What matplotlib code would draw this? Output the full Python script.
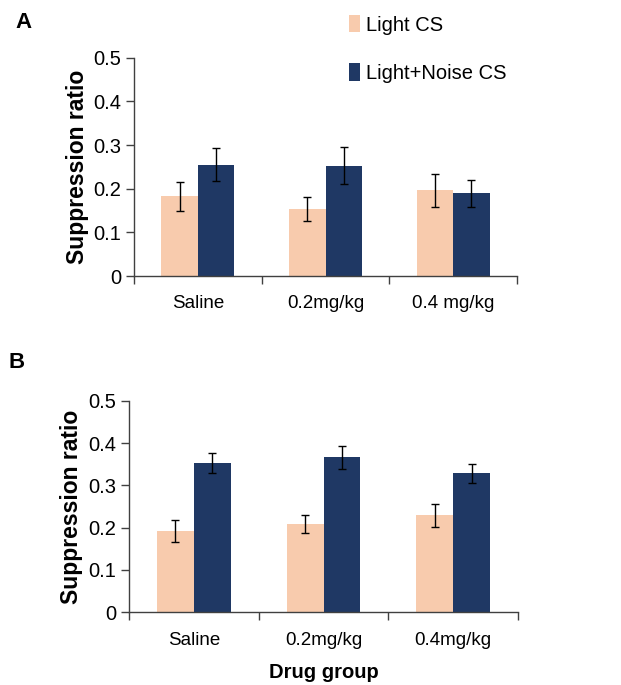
import matplotlib
matplotlib.use("Agg")
import matplotlib.pyplot as plt
from matplotlib.patches import Patch
import numpy as np

plt.rcParams['font.family'] = ['Liberation Sans', 'DejaVu Sans']

categories_a = ["Saline", "0.2mg/kg", "0.4 mg/kg"]
categories_b = ["Saline", "0.2mg/kg", "0.4mg/kg"]
series_names = ["Light CS", "Light+Noise CS"]

light_a = [0.183, 0.154, 0.196]
light_a_err = [0.033, 0.027, 0.038]
noise_a = [0.255, 0.253, 0.189]
noise_a_err = [0.038, 0.043, 0.032]

light_b = [0.192, 0.208, 0.229]
light_b_err = [0.026, 0.021, 0.027]
noise_b = [0.353, 0.366, 0.328]
noise_b_err = [0.024, 0.027, 0.023]

yticks = [0, 0.1, 0.2, 0.3, 0.4, 0.5]
ytick_labels = ["0", "0.1", "0.2", "0.3", "0.4", "0.5"]

c_light = "#F8CBAD"
c_dark = "#1F3864"
spine_c = "#404040"

fig = plt.figure(figsize=(6.21, 6.85), dpi=100)
axA = fig.add_axes([134/621, 1-276/685, 383/621, 218.3/685])
axB = fig.add_axes([129/621, 1-612.3/685, 389/621, 211.6/685])

def draw(ax, cats, light, lerr, dark, derr, lpad):
    x = np.arange(len(cats)) + 0.5
    w = 0.285
    ax.bar(x - w/2, light, w, color=c_light, edgecolor='none', zorder=2)
    ax.bar(x + w/2, dark, w, color=c_dark, edgecolor='none', zorder=2)
    ax.errorbar(x - w/2, light, yerr=lerr, fmt='none', ecolor='black',
                elinewidth=1.0, capsize=3, capthick=1.0, zorder=3)
    ax.errorbar(x + w/2, dark, yerr=derr, fmt='none', ecolor='black',
                elinewidth=1.0, capsize=3, capthick=1.0, zorder=3)
    ax.set_xlim(0, len(cats))
    ax.set_ylim(0, 0.5)
    ax.set_yticks(yticks)
    ax.set_yticklabels(ytick_labels)
    ax.set_xticks(np.arange(len(cats) + 1))
    ax.set_xticklabels([])
    ax.set_xticks(x, minor=True)
    ax.set_xticklabels(cats, minor=True)
    ax.tick_params(axis='x', which='major', length=6, width=1, color=spine_c, direction='out')
    ax.tick_params(axis='x', which='minor', length=0, labelsize=13.5, pad=14)
    ax.tick_params(axis='y', length=6, width=1, color=spine_c, labelsize=14.5, pad=3)
    for s in ['top', 'right']:
        ax.spines[s].set_visible(False)
    for s in ['left', 'bottom']:
        ax.spines[s].set_color(spine_c)
        ax.spines[s].set_linewidth(1.0)
    ax.set_ylabel("Suppression ratio", fontsize=16.5, fontweight='bold', labelpad=lpad)

draw(axA, categories_a, light_a, light_a_err, noise_a, noise_a_err, 3)
draw(axB, categories_b, light_b, light_b_err, noise_b, noise_b_err, 4)
axB.set_xlabel("Drug group", fontsize=14.5, fontweight='bold', labelpad=10)

handles = [Patch(facecolor=c_light, edgecolor='none'), Patch(facecolor=c_dark, edgecolor='none')]
fig.legend(handles, series_names, loc='upper left', bbox_to_anchor=(341/621, 1-7/685),
           frameon=False, fontsize=14.5, handlelength=0.55, handleheight=0.95,
           handletextpad=0.3, labelspacing=1.42, borderaxespad=0)

fig.text(15/621, 1-22/685, "A", fontsize=16, fontweight='bold', va='center', ha='left')
fig.text(8/621, 1-363/685, "B", fontsize=16, fontweight='bold', va='center', ha='left')

fig.savefig("out.png", dpi=100)
